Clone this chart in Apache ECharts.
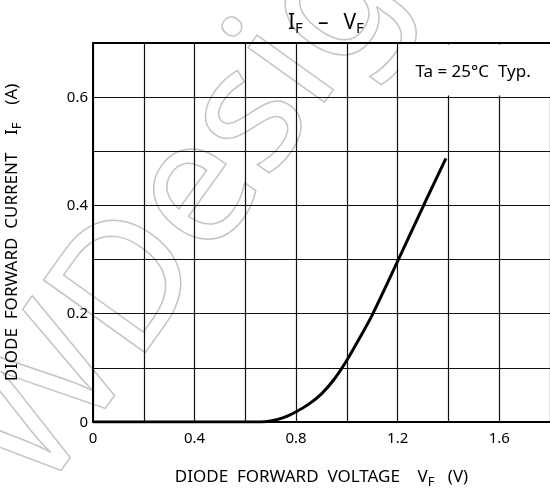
<!DOCTYPE html>
<html>
<head>
<meta charset="utf-8">
<script src="https://cdn.jsdelivr.net/npm/echarts@6/dist/echarts.min.js"></script>
<style>
  html, body { margin: 0; padding: 0; background: #fff; }
  #chart { width: 550px; height: 490px; }
</style>
</head>
<body>
<div id="chart"></div>
<script>
// forward voltage (V) and forward current (A)
const vf = [0, 0.66, 0.70, 0.75, 0.80, 0.85, 0.90, 0.95, 1.00, 1.05, 1.10, 1.20, 1.30, 1.39];
const iF = [0, 0, 0.002, 0.008, 0.019, 0.033, 0.052, 0.079, 0.114, 0.155, 0.198, 0.297, 0.398, 0.487];
const xLabels = [0, 0.4, 0.8, 1.2, 1.6];
const yLabels = [0, 0.2, 0.4, 0.6];

const font = "Noto Sans";
const chart = echarts.init(document.getElementById("chart"));

function pick(list) {
  return (v) => {
    const hit = list.find((t) => Math.abs(t - v) < 1e-6);
    return hit === undefined ? "" : String(hit);
  };
}

const sub = { fontFamily: font, fontSize: 13, color: "#000", padding: [10, 0, 0, 0] };
const big = { fontFamily: font, fontSize: 17, color: "#000" };

chart.setOption({
  animation: false,
  backgroundColor: "#fff",
  title: {
    text: "{m|I}{s|F}   {m|–}   {m|V}{s|F}",
    left: 283,
    top: 5,
    textStyle: {
      rich: {
        m: { fontFamily: font, fontSize: 21, fontWeight: "normal", color: "#000" },
        s: { fontFamily: font, fontSize: 15, fontWeight: "normal", color: "#000", padding: [11, 0, 0, 0] },
      },
    },
  },
  graphic: [
    {
      // faint outlined watermark
      type: "text",
      z: -10,
      silent: true,
      x: 0,
      y: 470,
      rotation: 0.95,
      style: {
        text: "WDesign",
        font: "175px Noto Sans",
        fill: "none",
        stroke: "#c4c4c4",
        lineWidth: 1.5,
        textVerticalAlign: "middle",
      },
    },
  ],
  grid: {
    left: 93,
    top: 43,
    right: 0,
    bottom: 68,
    containLabel: false,
    outerBoundsMode: "none",
  },
  xAxis: [
    {
      type: "value",
      min: 0,
      max: 1.8,
      interval: 0.2,
      name: "DIODE  FORWARD  VOLTAGE    {s|V}{b|F}   (V)",
      nameLocation: "middle",
      nameGap: 44,
      nameTextStyle: {
        fontFamily: font,
        fontSize: 17,
        color: "#000",
        rich: { s: big, b: sub },
      },
      axisLine: { show: true, lineStyle: { color: "#000", width: 2 } },
      axisTick: { show: false },
      axisLabel: {
        formatter: pick(xLabels),
        fontFamily: font,
        fontSize: 15,
        color: "#000",
        margin: 9,
      },
      splitLine: { show: true, lineStyle: { color: "#111", width: 1.2 } },
    },
    {
      // top frame edge
      type: "value",
      position: "top",
      min: 0,
      max: 1.8,
      axisLine: { show: true, onZero: false, lineStyle: { color: "#000", width: 2 } },
      axisTick: { show: false },
      axisLabel: { show: false },
      splitLine: { show: false },
    },
  ],
  yAxis: {
    type: "value",
    min: 0,
    max: 0.7,
    interval: 0.1,
    name: "DIODE  FORWARD  CURRENT    {s|I}{b|F}    (A)",
    nameLocation: "middle",
    nameRotate: 90,
    nameGap: 69,
    nameTextStyle: {
      fontFamily: font,
      fontSize: 17,
      color: "#000",
      rich: { s: big, b: sub },
    },
    axisLine: { show: true, lineStyle: { color: "#000", width: 2 } },
    axisTick: { show: false },
    axisLabel: {
      formatter: pick(yLabels),
      fontFamily: font,
      fontSize: 15,
      color: "#000",
      margin: 5,
      verticalAlign: "bottom",
      padding: [0, 0, -8, 0],
    },
    splitLine: { show: true, lineStyle: { color: "#111", width: 1.2 } },
  },
  series: [
    {
      type: "line",
      data: vf.map((v, i) => [v, iF[i]]),
      smooth: 0.3,
      showSymbol: false,
      lineStyle: { color: "#000", width: 3 },
      markArea: {
        silent: true,
        itemStyle: { color: "#fff", borderWidth: 0 },
        label: {
          show: true,
          position: "insideLeft",
          distance: 17,
          offset: [0, 2],
          fontFamily: font,
          fontSize: 17,
          color: "#000",
        },
        data: [
          [
            { name: "Ta = 25°C  Typ.", coord: [1.203, 0.603] },
            { coord: [1.8, 0.697] },
          ],
        ],
      },
    },
  ],
});
</script>
</body>
</html>
